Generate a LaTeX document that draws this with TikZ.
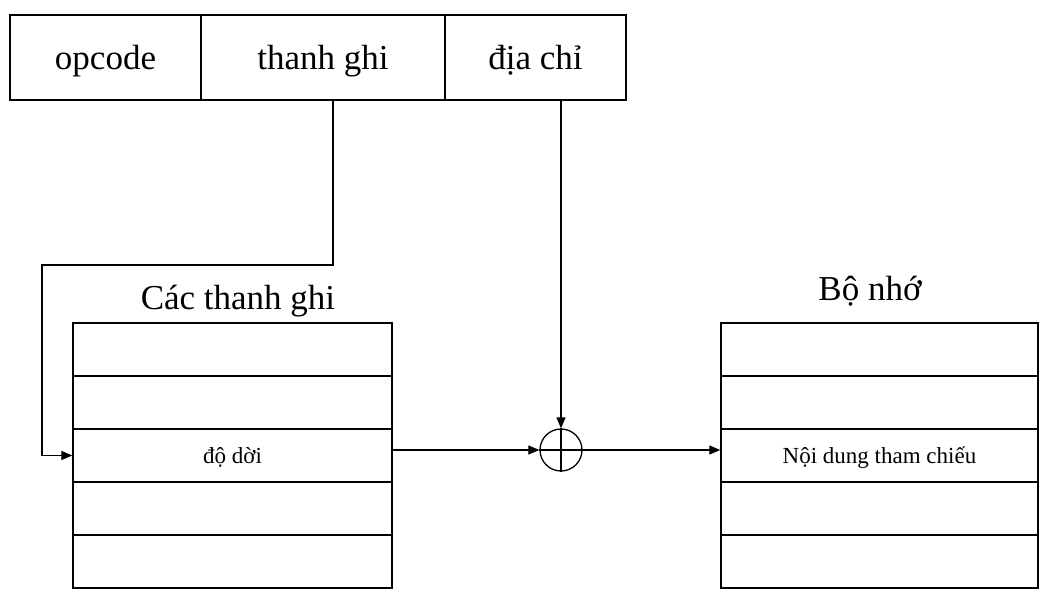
\documentclass[tikz,border=0pt]{standalone}
\usepackage{fontspec}
\setmainfont{Liberation Serif}
\usetikzlibrary{arrows.meta,calc}
\begin{document}
\begin{tikzpicture}[x=1pt,y=-1pt,
  field/.style={draw, line width=1.4pt, minimum height=85pt, inner sep=0pt, text height=30pt, text depth=5pt, font=\fontsize{35}{40}\selectfont},
  cell/.style={draw, line width=1.4pt, minimum height=53pt, inner sep=0pt, text height=20pt, text depth=4pt, font=\fontsize{23}{27}\selectfont},
  title/.style={font=\fontsize{35}{40}\selectfont, inner sep=0pt, anchor=base},
  conn/.style={line width=1.2pt},
  arr/.style={conn, -{Triangle[length=11pt,width=9pt]}}
]
\useasboundingbox (0,0) rectangle (1048,607);
% instruction fields
\node[field, minimum width=191pt] (op) at (105.5,57.5) {opcode};
\node[field, minimum width=244pt] (tg) at (323,57.5) {thanh ghi};
\node[field, minimum width=181pt] (ad) at (535.5,57.5) {địa chỉ};
% registers
\node[title] (regt) at (238,309) {Các thanh ghi};
\node[cell, minimum width=319pt] (r1) at (232.5,349.5) {};
\node[cell, minimum width=319pt] (r2) at (232.5,402.5) {};
\node[cell, minimum width=319pt] (r3) at (232.5,455.5) {độ dời};
\node[cell, minimum width=319pt] (r4) at (232.5,508.5) {};
\node[cell, minimum width=319pt] (r5) at (232.5,561.5) {};
% memory
\node[title] (memt) at (870,300) {Bộ nhớ};
\node[cell, minimum width=317pt] (m1) at (879.5,349.5) {};
\node[cell, minimum width=317pt] (m2) at (879.5,402.5) {};
\node[cell, minimum width=317pt] (m3) at (879.5,455.5) {Nội dung tham chiếu};
\node[cell, minimum width=317pt] (m4) at (879.5,508.5) {};
\node[cell, minimum width=317pt] (m5) at (879.5,561.5) {};
% adder
\node[draw, circle, line width=1.3pt, minimum size=42pt, inner sep=0pt] (sum) at (561,450) {};
\draw[conn] (sum.north) -- (sum.south);
\draw[conn] (sum.west) -- (sum.east);
% connectors
\coordinate (tgout) at (333,100);
\coordinate (bend) at (42,265);
\draw[arr] (tgout) |- (bend) |- (r3.west);
\draw[arr] (sum |- ad.south) -- (sum.north);
\draw[arr] (r3.east |- sum.west) -- (sum.west);
\draw[arr] (sum.east) -- (m3.west |- sum.east);
\end{tikzpicture}
\end{document}
